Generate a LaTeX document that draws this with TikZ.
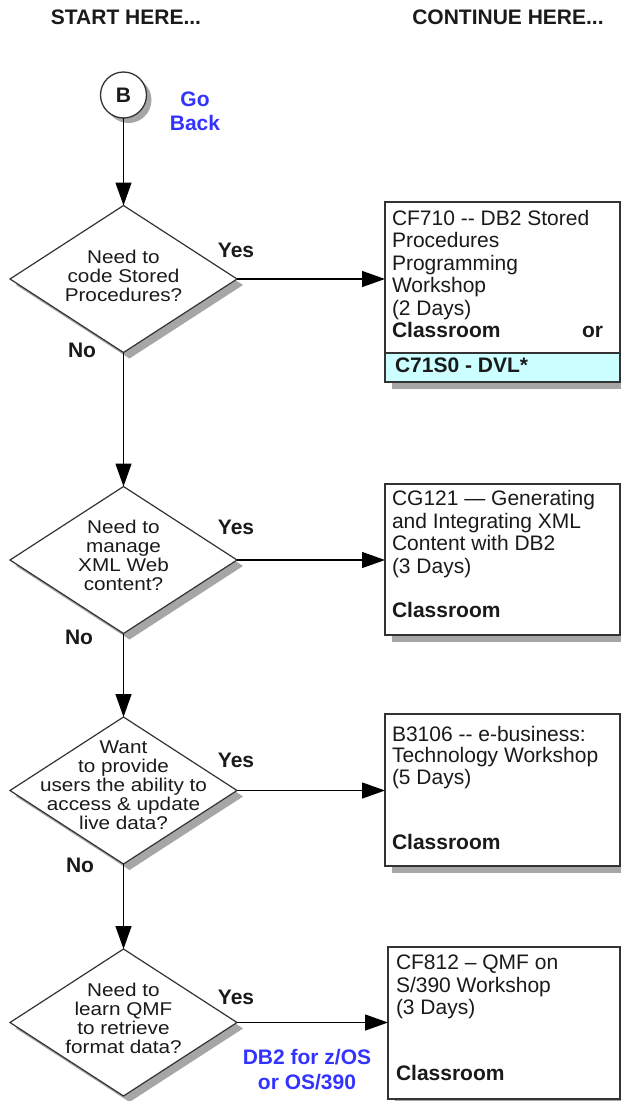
\documentclass[tikz,border=0pt]{standalone}
\usepackage{fontspec}
\setmainfont{Liberation Sans}
\newfontfamily\qfont{Liberation Sans}[FakeStretch=1.12]
\usetikzlibrary{shapes.geometric,arrows.meta,shadows}
\definecolor{shadowgray}{HTML}{A6A6A6}
\definecolor{edgegray}{HTML}{333333}
\definecolor{linkblue}{HTML}{3333FF}
\definecolor{dvlcyan}{HTML}{CCFFFF}
\definecolor{txt}{HTML}{1A1A1A}
\newcommand\stackC[2]{\vtop{\baselineskip=#1\lineskip=0pt\lineskiplimit=-100pt\halign{\hfil##\hfil\cr#2\crcr}}}
\newcommand\stackL[2]{\vtop{\baselineskip=#1\lineskip=0pt\lineskiplimit=-100pt\halign{##\hfil\cr#2\crcr}}}
\begin{document}
\begin{tikzpicture}[x=1pt,y=-1pt,
  every node/.style={inner sep=0pt,outer sep=0pt,font=\fontsize{21pt}{22.5pt}\selectfont,text=txt},
  question/.style={font=\qfont\fontsize{18.5pt}{19pt}\selectfont},
  decision/.style={diamond,draw=edgegray,line width=1.2pt,fill=white,minimum width=227pt,minimum height=147pt,
    general shadow={fill=shadowgray,shadow xshift=6pt,shadow yshift=-6pt}},
  course/.style={rectangle,draw=edgegray,line width=1.4pt,fill=white,minimum width=235pt,
    general shadow={fill=shadowgray,shadow xshift=7pt,shadow yshift=-7pt}},
  connector/.style={line width=1.3pt,-{Triangle[length=23pt,width=16pt]}},
  tag/.style={font=\bfseries\fontsize{21pt}{22.5pt}\selectfont},
  bluetag/.style={tag,text=linkblue},
]
\useasboundingbox (0,0) rectangle (621,1101);

% titles
\node[tag] (t1) at (126,17.5) {START HERE...};
\node[tag] (t2) at (508,17.5) {CONTINUE HERE...};

% start connector
\node[circle,draw=edgegray,line width=1.3pt,fill=white,minimum size=46pt,
  general shadow={fill=shadowgray,shadow xshift=5pt,shadow yshift=-5pt},tag] (start) at (123.5,95) {B};
\node[bluetag] (go) at (195,99) {Go};
\node[bluetag] (back) at (195,123) {Back};

% decisions
\node[decision] (d1) at (123.5,279) {};
\node[decision] (d2) at (123.5,560) {};
\node[decision] (d3) at (123.5,790.5) {};
\node[decision] (d4) at (123.5,1022.5) {};

\node[question,anchor=base] (q1) at (123.5,263) {\stackC{19pt}{Need to\cr code Stored\cr Procedures?}};
\node[question,anchor=base] (q2) at (123.5,533.5) {\stackC{19pt}{Need to\cr manage\cr XML Web\cr content?}};
\node[question,anchor=base] (q3) at (123.5,753.5) {\stackC{19pt}{Want\cr to provide\cr users the ability to\cr access \& update\cr live data?}};
\node[question,anchor=base] (q4) at (123.5,996.5) {\stackC{19pt}{Need to\cr learn QMF\cr to retrieve\cr format data?}};

% courses
\node[course,minimum height=180pt] (b1) at (502.5,292) {};
\node[course,minimum height=151pt] (b2) at (502.5,559.5) {};
\node[course,minimum height=152pt] (b3) at (502.5,790) {};
\node[course,minimum width=232pt,minimum height=152pt] (b4) at (504,1023) {};

\coordinate (div) at (502.5,353);
\fill[dvlcyan] (b1.south west) rectangle (b1.east |- div);
\draw[edgegray,line width=1.4pt] (b1.west |- div) -- (b1.east |- div);
\draw[edgegray,line width=1.4pt] (b1.south west) rectangle (b1.north east);

\node[anchor=base west] (c1) at (392,225) {\stackL{22.5pt}{CF710 -{}- DB2 Stored\cr Procedures\cr Programming\cr Workshop\cr (2 Days)}};
\node[tag,anchor=base west] (c1a) at (392,337.5) {Classroom};
\node[tag,anchor=base west] (c1b) at (582,337.5) {or};
\node[tag,anchor=base west] (c1c) at (395,372) {C71S0 - DVL*};

\node[anchor=base west] (c2) at (392,505.5) {\stackL{22.5pt}{CG121 — Generating\cr and Integrating XML\cr Content with DB2\cr (3 Days)}};
\node[tag,anchor=base west] (c2a) at (392,617.5) {Classroom};

\node[anchor=base west] (c3) at (392,741) {\stackL{21.5pt}{B3106 -{}- e-business:\cr Technology Workshop\cr (5 Days)}};
\node[tag,anchor=base west] (c3a) at (392,849.5) {Classroom};

\node[anchor=base west] (c4) at (396,969.5) {\stackL{22.5pt}{CF812 – QMF on\cr S/390 Workshop\cr (3 Days)}};
\node[tag,anchor=base west] (c4a) at (396,1080.5) {Classroom};

% labels
\node[tag] (y1) at (236,250) {Yes};
\node[tag] (y2) at (236,527) {Yes};
\node[tag] (y3) at (236,760) {Yes};
\node[tag] (y4) at (236,997) {Yes};
\node[tag] (n1) at (82,350) {No};
\node[tag] (n2) at (79,637) {No};
\node[tag] (n3) at (80,865) {No};
\node[bluetag] (os1) at (307,1057) {DB2 for z/OS};
\node[bluetag] (os2) at (307,1082) {or OS/390};

% connectors
\draw[connector] (start.south) -- (d1.north);
\draw[connector] (d1.south) -- (d2.north);
\draw[connector] (d2.south) -- (d3.north);
\draw[connector] (d3.south) -- (d4.north);
\draw[connector] (d1.east) -- (d1.east -| b1.west);
\draw[connector] (d2.east) -- (d2.east -| b2.west);
\draw[connector] (d3.east) -- (d3.east -| b3.west);
\draw[connector] (d4.east) -- (d4.east -| b4.west);
\end{tikzpicture}
\end{document}
